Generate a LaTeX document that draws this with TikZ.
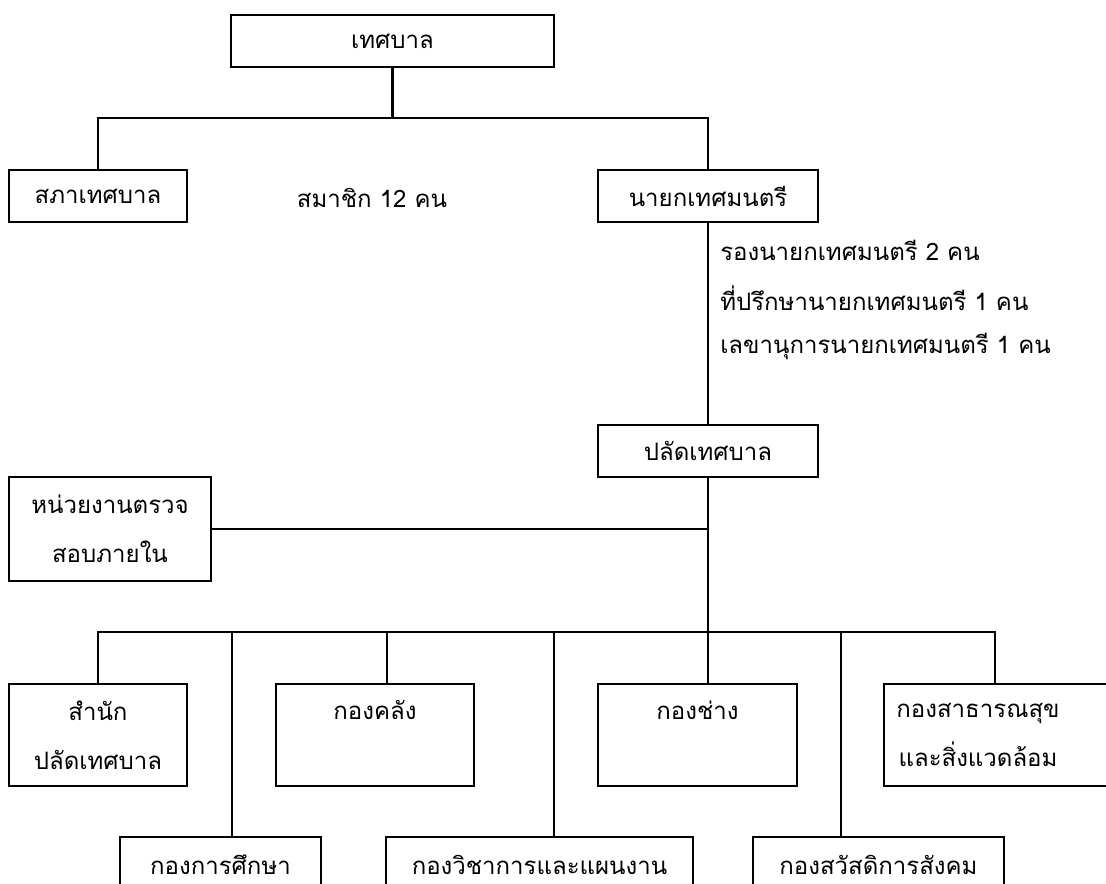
\documentclass[tikz,border=0pt]{standalone}
\usepackage{fontspec}
\newfontfamily\thaifont[Script=Thai]{Loma}
\usetikzlibrary{calc}
\begin{document}
\begin{tikzpicture}[x=0.75pt,y=-0.75pt,
  every node/.style={font=\thaifont\fontsize{18}{24}\selectfont},
  box/.style={draw,line width=1.7pt,inner sep=0pt,align=center},
  conn/.style={line width=1.7pt},
  note/.style={inner sep=0pt,anchor=west}]
\useasboundingbox (0,0) rectangle (1106,884);
\clip (0,0) rectangle (1106,884);
% nodes
\node[box,minimum width={323*0.75pt},minimum height={52*0.75pt}] (tes) at (392.5,41) {เทศบาล};
\node[box,minimum width={178*0.75pt},minimum height={52*0.75pt}] (sapha) at (98,196) {สภาเทศบาล};
\node[inner sep=0pt] (samachik) at (372,198) {สมาชิก 12 คน};
\node[box,minimum width={220*0.75pt},minimum height={52*0.75pt}] (nayok) at (708,196) {นายกเทศมนตรี};
\node[note] (rong) at (720,250) {รองนายกเทศมนตรี 2 คน};
\node[note] (prueksa) at (720,298) {ที่ปรึกษานายกเทศมนตรี 1 คน};
\node[note] (lekha) at (720,346) {เลขานุการนายกเทศมนตรี 1 คน};
\node[box,minimum width={220*0.75pt},minimum height={52*0.75pt}] (palad) at (708,451) {ปลัดเทศบาล};
\node[box,minimum width={202*0.75pt},minimum height={104*0.75pt}] (audit) at (110,529) {หน่วยงานตรวจ\\[13pt]สอบภายใน};
\node[box,minimum width={178*0.75pt},minimum height={102*0.75pt}] (samnak) at (98,735) {สำนัก\\[13pt]ปลัดเทศบาล};
\node[box,minimum width={198*0.75pt},minimum height={102*0.75pt}] (klang) at (375,735) {กองคลัง\\[13pt]\mbox{}};
\node[box,minimum width={199*0.75pt},minimum height={102*0.75pt}] (chang) at (697.5,735) {กองช่าง\\[13pt]\mbox{}};
\node[inner sep=0pt,align=center,minimum width={188*0.75pt},minimum height={102*0.75pt}] (health) at (978,735) {กองสาธารณสุข\\[13pt]และสิ่งแวดล้อม};
\draw[conn] ($(health.north east)+(60,0)$) -- (health.north west) -- (health.south west) -- ($(health.south east)+(60,0)$);
\node[box,minimum width={201*0.75pt},minimum height={56*0.75pt}] (edu) at (220.5,865) {กองการศึกษา};
\node[box,minimum width={307*0.75pt},minimum height={56*0.75pt}] (plan) at (539.5,865) {กองวิชาการและแผนงาน};
\node[box,minimum width={251*0.75pt},minimum height={56*0.75pt}] (welfare) at (878.5,865) {กองสวัสดิการสังคม};
% bus coordinates
\coordinate (bus1) at (387,118);
\coordinate (bus3) at (708,632);
\coordinate (dEdu) at (232,632);
\coordinate (dKlang) at (387,632);
\coordinate (dPlan) at (554,632);
\coordinate (dWelf) at (841,632);
\coordinate (dHealth) at (995,632);
% connectors
\draw[conn] (tes.south) -- (tes.south |- bus1);
\draw[conn] (sapha.north) |- (bus1) -| (nayok.north);
\draw[conn] (nayok.south) -- (palad.north);
\draw[conn] (palad.south) -- (bus3);
\draw[conn] (audit.east) -- (audit.east -| palad.south);
\draw[conn] (samnak.north) |- (bus3) -| (dHealth) -- (dHealth |- health.north);
\draw[conn] (dEdu) -- (dEdu |- edu.north);
\draw[conn] (dKlang) -- (dKlang |- klang.north);
\draw[conn] (dPlan) -- (dPlan |- plan.north);
\draw[conn] (bus3) -- (bus3 |- chang.north);
\draw[conn] (dWelf) -- (dWelf |- welfare.north);
\end{tikzpicture}
\end{document}
